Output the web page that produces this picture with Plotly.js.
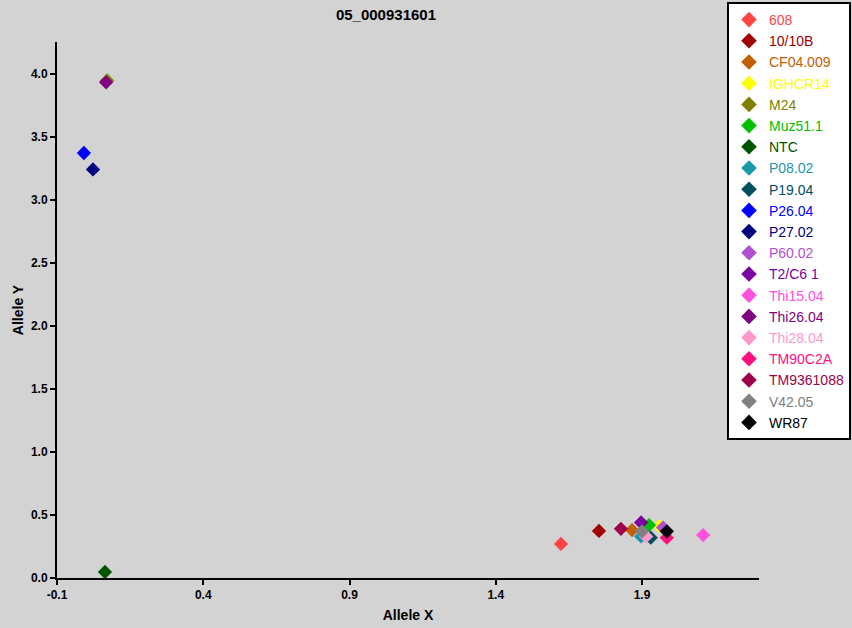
<!DOCTYPE html>
<html>
<head>
<meta charset="utf-8">
<script src="https://cdn.plot.ly/plotly-3.0.1.min.js"></script>
<style>html,body{margin:0;padding:0;background:#D3D3D3;}#chart{width:852px;height:628px;}</style>
</head>
<body>
<div id="chart"></div>
<script>
const samples = ["608","10/10B","CF04.009","IGHCR14","M24","Muz51.1","NTC","P08.02","P19.04","P26.04","P27.02","P60.02","T2/C6 1","Thi15.04","Thi26.04","Thi28.04","TM90C2A","TM9361088","V42.05","WR87"];
const alleleX = [1.623,1.753,1.866,1.960,0.071,1.924,0.064,1.897,1.930,-0.008,0.023,1.972,1.897,2.109,0.068,1.914,1.985,1.828,1.900,1.985];
const alleleY = [0.27,0.373,0.38,0.41,3.945,0.42,0.048,0.33,0.32,3.37,3.24,0.40,0.44,0.34,3.93,0.33,0.32,0.39,0.37,0.37];
const colors = ["#FF4444","#A00000","#C06000","#FFFF00","#808000","#00C000","#005500","#1A98AA","#00505F","#0000FF","#000080","#B050D0","#7A00A0","#FF50E0","#800080","#FF99CC","#FF1080","#A0004A","#808080","#000000"];
const xTicks = [-0.1,0.4,0.9,1.4,1.9];
const yTicks = [0.0,0.5,1.0,1.5,2.0,2.5,3.0,3.5,4.0];

const traces = samples.map((s,i)=>({
  type:'scatter', mode:'markers',
  x:[alleleX[i]], y:[alleleY[i]],
  name:'<span style="color:'+colors[i]+'">'+s+'</span>',
  marker:{symbol:'diamond', size:11, color:colors[i], line:{width:0}}
}));

const layout = {
  width:852, height:628,
  paper_bgcolor:'#D3D3D3', plot_bgcolor:'#D3D3D3',
  margin:{l:57, r:93, t:42, b:50, autoexpand:false},
  font:{family:'Liberation Sans, Arial, sans-serif', color:'#000'},
  title:{text:'<b>05_000931601</b>', x:0.453, xref:'container', xanchor:'center', y:0.976, yanchor:'middle', font:{size:15, color:'#000'}},
  xaxis:{range:[-0.1,2.3], tickvals:xTicks, ticktext:xTicks.map(v=>'<b>'+v.toFixed(1)+'</b>'),
    showgrid:false, zeroline:false, showline:true, linecolor:'#000', linewidth:2,
    ticks:'outside', ticklen:5, tickwidth:2, tickcolor:'#000', tickfont:{size:12},
    title:{text:'<b>Allele X</b>', font:{size:14}, standoff:9}},
  yaxis:{range:[0,4.25], tickvals:yTicks, ticktext:yTicks.map(v=>'<b>'+v.toFixed(1)+'</b>'),
    showgrid:false, zeroline:false, showline:true, linecolor:'#000', linewidth:2,
    ticks:'outside', ticklen:5, tickwidth:2, tickcolor:'#000', tickfont:{size:12},
    title:{text:'<b>Allele Y</b>', font:{size:14}, standoff:4}},
  showlegend:true,
  legend:{xref:'container', yref:'container', x:727/852, xanchor:'left', y:1-2/628, yanchor:'top', maxheight:620,
    bgcolor:'#FFFFFF', bordercolor:'#000', borderwidth:2,
    font:{size:14, family:'Liberation Sans, Arial, sans-serif'}, itemsizing:'constant', tracegroupgap:0}
};
Plotly.newPlot('chart', traces, layout, {displayModeBar:false, staticPlot:true});
</script>
</body>
</html>
